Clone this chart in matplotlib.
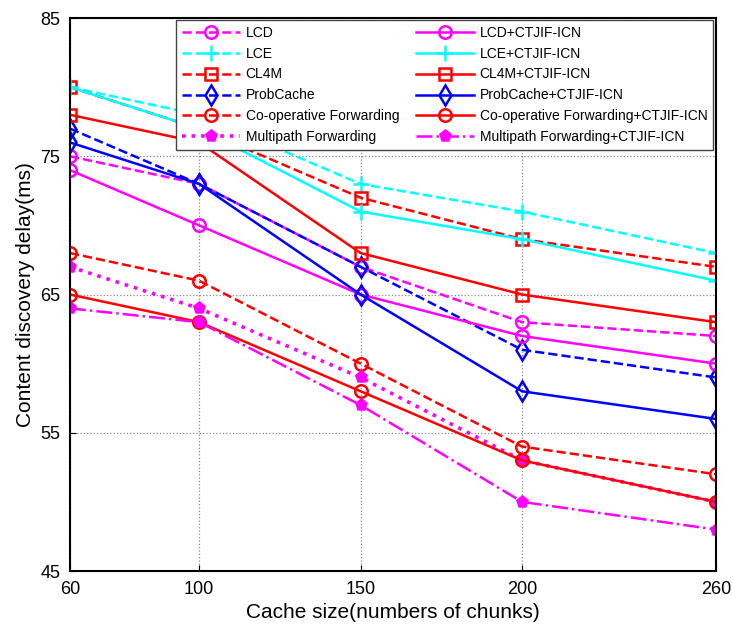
import numpy as np
import matplotlib
matplotlib.use('Agg')
import matplotlib.pyplot as plt

plt.rcParams['font.family'] = ['Liberation Sans', 'DejaVu Sans']

# cache sizes (numbers of chunks)
cache_size = [60, 100, 150, 200, 260]

# content discovery delay (ms)
lcd = [75, 73, 67, 63, 62]
lce = [80, 78, 73, 71, 68]
cl4m = [80, 77, 72, 69, 67]
probcache = [77, 73, 67, 61, 59]
coop = [68, 66, 60, 54, 52]
multipath = [67, 64, 59, 53, 50]

lcd_ct = [74, 70, 65, 62, 60]
lce_ct = [80, 77, 71, 69, 66]
cl4m_ct = [78, 76, 68, 65, 63]
probcache_ct = [76, 73, 65, 58, 56]
coop_ct = [65, 63, 58, 53, 50]
multipath_ct = [64, 63, 57, 50, 48]

x_ticks = [60, 100, 150, 200, 260]
y_ticks = [45, 55, 65, 75, 85]

fig = plt.figure(figsize=(7.32, 6.39), dpi=100)
ax = fig.add_axes([0.0956, 0.1064, 0.8824, 0.8654])

lw = 1.8
ms = 9

# baseline schemes (first legend column)
ax.plot(cache_size, lcd, color='#ff00ff', ls='--', marker='o', mfc='none', mew=lw, ms=ms, lw=lw, label='LCD')
ax.plot(cache_size, lce, color='#00ffff', ls='--', marker='+', mew=lw, ms=ms + 3, lw=lw, label='LCE')
ax.plot(cache_size, cl4m, color='#ff0000', ls='--', marker='s', mfc='none', mew=lw, ms=ms - 1, lw=lw, label='CL4M')
ax.plot(cache_size, probcache, color='#0000ff', ls='--', marker='d', mfc='none', mew=lw, ms=ms + 1, lw=lw, label='ProbCache')
ax.plot(cache_size, coop, color='#ff0000', ls='--', marker='o', mfc='none', mew=lw, ms=ms, lw=lw, label='Co-operative Forwarding')
ax.plot(cache_size, multipath, color='#ff00ff', ls=':', marker='p', mew=lw, ms=ms - 1, lw=lw + 0.8, label='Multipath Forwarding')

# with CTJIF-ICN (second legend column)
ax.plot(cache_size, lcd_ct, color='#ff00ff', ls='-', marker='o', mfc='none', mew=lw, ms=ms, lw=lw, label='LCD+CTJIF-ICN')
ax.plot(cache_size, lce_ct, color='#00ffff', ls='-', marker='+', mew=lw, ms=ms + 3, lw=lw, label='LCE+CTJIF-ICN')
ax.plot(cache_size, cl4m_ct, color='#ff0000', ls='-', marker='s', mfc='none', mew=lw, ms=ms - 1, lw=lw, label='CL4M+CTJIF-ICN')
ax.plot(cache_size, probcache_ct, color='#0000ff', ls='-', marker='d', mfc='none', mew=lw, ms=ms + 1, lw=lw, label='ProbCache+CTJIF-ICN')
ax.plot(cache_size, coop_ct, color='#ff0000', ls='-', marker='o', mfc='none', mew=lw, ms=ms, lw=lw, label='Co-operative Forwarding+CTJIF-ICN')
ax.plot(cache_size, multipath_ct, color='#ff00ff', ls='-.', marker='p', mew=lw, ms=ms - 1, lw=lw, label='Multipath Forwarding+CTJIF-ICN')

ax.set_xlim(60, 260)
ax.set_ylim(45, 85)
ax.set_xticks(x_ticks)
ax.set_yticks(y_ticks)
ax.tick_params(direction='in', labelsize=13, length=4, pad=7)
ax.grid(True, ls=':', color='#888888', lw=0.9)
for s in ax.spines.values():
    s.set_linewidth(1.5)

ax.set_xlabel('Cache size(numbers of chunks)', fontsize=15)
ax.set_ylabel('Content discovery delay(ms)', fontsize=15)

leg = ax.legend(ncol=2, loc='upper right', bbox_to_anchor=(1 - 3 / 646, 1 - 2 / 553), borderaxespad=0,
                fontsize=10, handlelength=4.2, handletextpad=0.4, columnspacing=1.2,
                labelspacing=0.5, borderpad=0.4,
                fancybox=False, edgecolor='#444444', framealpha=1)
leg.get_frame().set_linewidth(1.0)

plt.savefig('out.png', dpi=100)
